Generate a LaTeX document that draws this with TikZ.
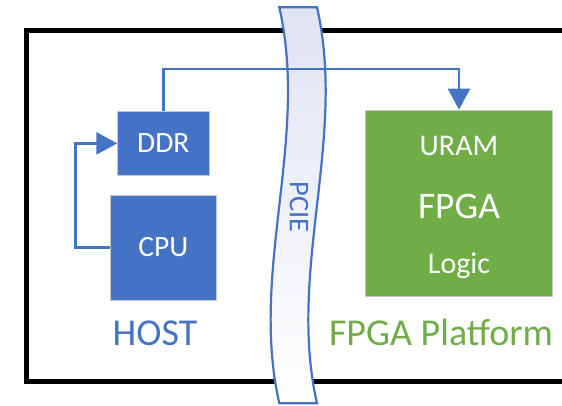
\documentclass[tikz,border=0pt]{standalone}
\usepackage{fontspec}
\setmainfont{Carlito}
\usetikzlibrary{arrows.meta}
\definecolor{hostblue}{RGB}{68,114,196}
\definecolor{fpgagreen}{RGB}{112,173,71}
\definecolor{pcietop}{RGB}{224,228,242}
\definecolor{pciemid}{RGB}{240,242,249}
\tikzset{
  hostbox/.style={fill=hostblue, draw=black!22, line width=0.8pt, inner sep=0pt,
    text=white, font=\fontsize{29.5}{29.5}\selectfont},
  fpgabox/.style={fill=fpgagreen, draw=black!22, line width=0.8pt, inner sep=0pt},
  intext/.style={text=white, inner sep=0pt, anchor=base},
  caption/.style={inner sep=0pt, anchor=base, font=\fontsize{38}{38}\selectfont},
  conn/.style={draw=hostblue, line width=2.8pt,
    -{Triangle[length=21pt, width=22pt]}},
  frame/.style={draw=black, line width=5pt},
  bus/.style={draw=hostblue, line width=2.2pt, top color=pcietop,
    middle color=pciemid, bottom color=white},
}
\begin{document}
\begin{tikzpicture}[x=1pt, y=1pt]
  \useasboundingbox (0,0) rectangle (562,405);
  \clip (0,0) rectangle (562,405);
  \fill[white] (0,0) rectangle (562,405);

  % enclosing system frame, open past the right edge
  \draw[frame] (26.5,374) rectangle (620,24);

  % PCIe bus band
  \path[bus] (279.3,397.7) -- (317,397.7)
    .. controls (347,265.7) and (287,133.7) .. (317,1.7)
    -- (279.3,1.7)
    .. controls (249.3,133.7) and (309.3,265.7) .. (279.3,397.7) -- cycle;
  \node[text=hostblue, rotate=-90, inner sep=0pt,
    font=\fontsize{28.5}{28.5}\selectfont] (pcie) at (299,198) {PCIE};

  % host side
  \node[hostbox, minimum width=91.3pt, minimum height=64.7pt] (ddr) at (163.3,261.6) {DDR};
  \node[hostbox, minimum width=105.3pt, minimum height=105pt] (cpu) at (163.3,157.5) {\raisebox{-3pt}{CPU}};
  \node[caption, text=hostblue] (host) at (155,60) {HOST};

  % FPGA side
  \node[fpgabox, minimum width=186.6pt, minimum height=186.7pt] (fpga) at (459,201.7) {};
  \node[intext, font=\fontsize{30}{30}\selectfont] (uram) at ([yshift=48pt]fpga.center) {URAM};
  \node[intext, font=\fontsize{37.5}{37.5}\selectfont] (fpgalbl) at ([yshift=-15.2pt]fpga.center) {FPGA};
  \node[intext, font=\fontsize{30}{30}\selectfont] (logic) at ([yshift=-70pt]fpga.center) {Logic};
  \node[caption, text=fpgagreen] (platform) at (441,60) {FPGA Platform};

  % data paths
  \draw[conn] (cpu.west) -- ++(-35,0) |- (ddr.west);
  \draw[conn] (ddr.north) -- ++(0,41.7) -| (fpga.north);
\end{tikzpicture}
\end{document}
